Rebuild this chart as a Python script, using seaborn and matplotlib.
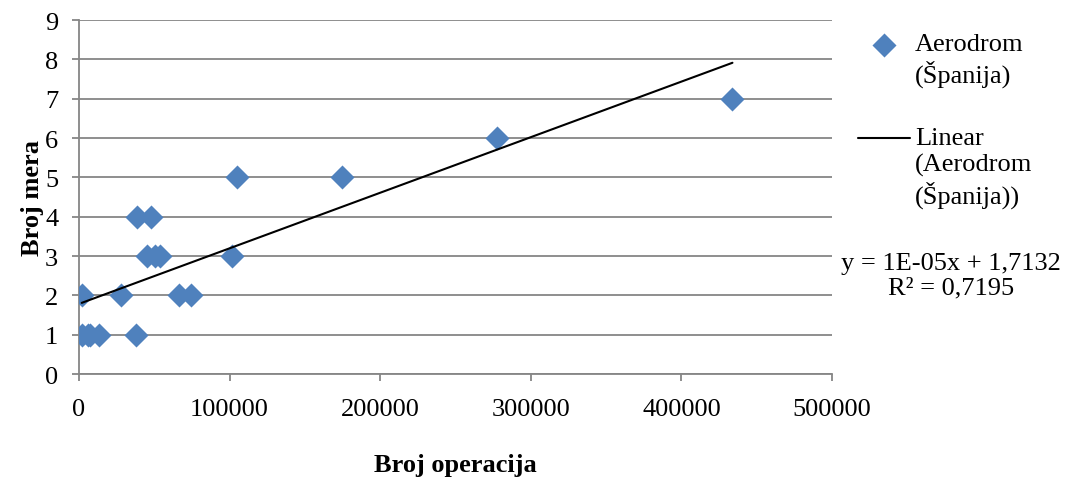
import pandas as pd
import numpy as np
import matplotlib
matplotlib.use('Agg')
import matplotlib.pyplot as plt
import seaborn as sns

# broj operacija po aerodromu i broj mera
operacije = [1800, 6200, 7300, 13500, 37600,
             1800, 27900, 66600, 74400,
             45400, 50500, 53800, 101800,
             38700, 47600,
             105100, 174600,
             277700,
             433900]
mere = [1, 1, 1, 1, 1,
        2, 2, 2, 2,
        3, 3, 3, 3,
        4, 4,
        5, 5,
        6,
        7]

x_ticks = [0, 100000, 200000, 300000, 400000, 500000]
x_labels = ['0', '100000', '200000', '300000', '400000', '500000']
y_ticks = list(range(0, 10))

jednacina = 'y = 1E-05x + 1,7132\nR² = 0,7195'

df = pd.DataFrame({'Broj operacija': operacije, 'Broj mera': mere})

sns.set_theme(style='white')
plt.rcParams['font.family'] = ['Liberation Serif', 'DejaVu Serif']
plt.rcParams['text.color'] = 'black'
plt.rcParams['axes.labelcolor'] = 'black'

gray = '#868686'
blue = '#4F81BD'
fs = 19

fig = plt.figure(figsize=(10.65, 4.85), dpi=100)
ax = fig.add_axes([79 / 1065, 1 - 375 / 485, (832 - 79) / 1065, (375 - 21) / 485])

sns.scatterplot(data=df, x='Broj operacija', y='Broj mera', marker='D', color=blue,
                s=150, edgecolor=blue, linewidth=0, ax=ax, label='Aerodrom\n(Španija)', zorder=3)
sns.regplot(data=df, x='Broj operacija', y='Broj mera', scatter=False, ci=None, truncate=True,
            color='black', line_kws={'linewidth': 1.5, 'zorder': 4}, ax=ax,
            label='Linear\n(Aerodrom\n(Španija))')

ax.set_xlim(0, 500000)
ax.set_ylim(0, 9)
ax.set_xticks(x_ticks)
ax.set_xticklabels(x_labels)
ax.set_yticks(y_ticks)
ax.yaxis.grid(True, color=gray, linewidth=1.3)
ax.set_axisbelow(True)

for s in ['top', 'right']:
    ax.spines[s].set_visible(False)
for s in ['left', 'bottom']:
    ax.spines[s].set_color(gray)
    ax.spines[s].set_linewidth(1.3)

ax.tick_params(axis='both', direction='out', length=5, width=1.3, color=gray,
               labelsize=fs, labelcolor='black', left=True, bottom=True)
ax.tick_params(axis='y', pad=10)
ax.tick_params(axis='x', pad=12)

ax.set_xlabel('Broj operacija', fontsize=fs, fontweight='bold', labelpad=24)
ax.set_ylabel('Broj mera', fontsize=fs, fontweight='bold', labelpad=1)

leg = ax.legend(loc='upper left', bbox_to_anchor=(834 / 1065, 1 - 10 / 485),
                bbox_transform=fig.transFigure, frameon=False, fontsize=fs,
                labelspacing=1.55, handlelength=1.97, handletextpad=0.2, handleheight=1.0)
# oznaka uz prvi red teksta, kao u Excelu
for col in leg._legend_handle_box.get_children():
    for row in col.get_children():
        row.align = 'top'

fig.text(951 / 1065, 1 - 276 / 485, jednacina, ha='center', va='center',
         fontsize=fs, linespacing=1.15)

fig.savefig('out.png', dpi=100)
